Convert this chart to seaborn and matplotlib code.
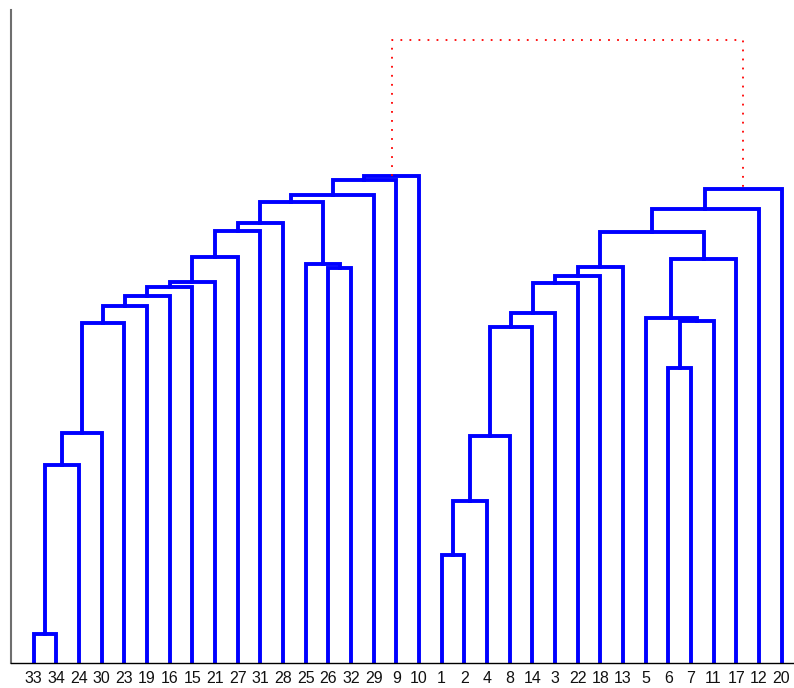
import matplotlib
matplotlib.use("Agg")
import matplotlib.pyplot as plt
import pandas as pd
import seaborn as sns

# Leaf order along the x axis
leaf_labels = [33, 34, 24, 30, 23, 19, 16, 15, 21, 27, 31, 28, 25, 26, 32, 29, 9, 10,
               1, 2, 4, 8, 14, 3, 22, 18, 13, 5, 6, 7, 11, 17, 12, 20]

# Merges: children are leaf labels (int) or earlier merge ids ("n<k>")
merge_left = [33, "n0", "n1", "n2", "n3", "n4", "n5", "n6", "n7", "n8", "n9",
              26, 25, "n10", "n13", "n14", "n15",
              1, "n17", "n18", "n19", "n20", "n21", "n22", "n23",
              6, "n25", 5, "n27", "n24", "n29", "n30",
              "n16"]
merge_right = [34, 24, 30, 23, 19, 16, 15, 21, 27, 31, 28,
               32, "n11", "n12", 29, 9, 10,
               2, 4, 8, 14, 3, 22, 18, 13,
               7, 11, "n26", 17, "n28", 12, 20,
               "n31"]
merge_height = [0.29, 1.98, 2.30, 3.40, 3.57, 3.67, 3.76, 3.81, 4.06, 4.32, 4.40,
                3.95, 3.99, 4.61, 4.68, 4.83, 4.87,
                1.08, 1.62, 2.27, 3.36, 3.50, 3.80, 3.87, 3.96,
                2.95, 3.42, 3.45, 4.04, 4.31, 4.54, 4.74,
                6.23]

# Compute x/y of every node, then build the U-shaped links
pos = {lab: (i + 1, 0.0) for i, lab in enumerate(leaf_labels)}
rows = []
for k, (a, b, h) in enumerate(zip(merge_left, merge_right, merge_height)):
    xa, ya = pos[a]
    xb, yb = pos[b]
    group = "root" if k == len(merge_height) - 1 else "link"
    for x, y in [(xa, ya), (xa, h), (xb, h), (xb, yb)]:
        rows.append({"link": k, "x": x, "y": y, "group": group})
    pos[f"n{k}"] = ((xa + xb) / 2, h)
links = pd.DataFrame(rows)

sns.set_theme(style="white")
plt.rcParams["font.family"] = ["Liberation Sans", "DejaVu Sans"]

fig = plt.figure(figsize=(7.94, 6.88), dpi=100)
ax = fig.add_axes([11 / 794, 25 / 688, 783 / 794, 653 / 688])

sns.lineplot(data=links[links.group == "link"], x="x", y="y", units="link",
             estimator=None, sort=False, color="#0000ff", linewidth=2.8,
             ax=ax, legend=False)
sns.lineplot(data=links[links.group == "root"], x="x", y="y", units="link",
             estimator=None, sort=False, color="#ff0000", linewidth=1.3,
             linestyle=(0, (1, 4)), ax=ax, legend=False)
for line in ax.lines:
    line.set_solid_joinstyle("miter")
    line.set_solid_capstyle("projecting")

ax.set_xlim(0, 34.55)
ax.set_ylim(0, 6.53)
ax.set_xticks(range(1, len(leaf_labels) + 1))
ax.set_xticklabels([str(v) for v in leaf_labels], fontsize=11.5, color="#111111")
ax.set_yticks([])
ax.set_xlabel("")
ax.set_ylabel("")
ax.tick_params(axis="x", length=0, pad=6)

for side in ["top", "right"]:
    ax.spines[side].set_visible(False)
ax.spines["bottom"].set_color("#000000")
ax.spines["bottom"].set_linewidth(1.0)
ax.spines["left"].set_color("#6e6e6e")
ax.spines["left"].set_linewidth(1.5)

fig.savefig("out.png", dpi=100)
